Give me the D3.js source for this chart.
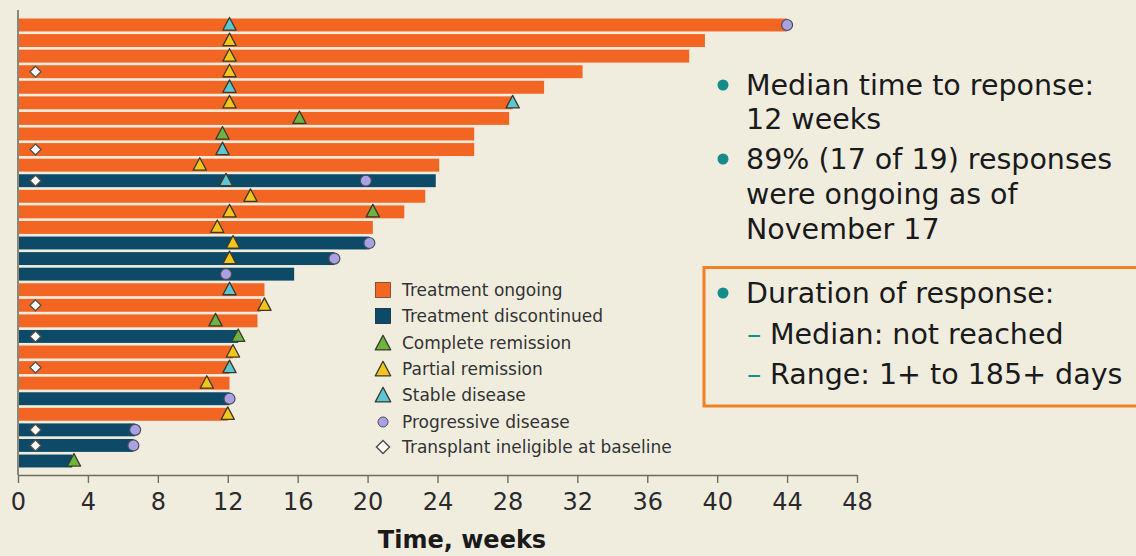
<!DOCTYPE html>
<html>
<head>
<meta charset="utf-8">
<script src="https://cdn.jsdelivr.net/npm/d3@7"></script>
<style>
html,body{margin:0;padding:0;background:#f0eddf;}
svg{display:block;font-family:"DejaVu Sans",Verdana,sans-serif;}
</style>
</head>
<body>
<svg id="chart" width="1136" height="556"></svg>
<script>
// ---- data ----
const patients = d3.range(1, 30);
const durations = [44.0, 39.3, 38.4, 32.3, 30.1, 28.3, 28.1, 26.1, 26.1, 24.1, 23.9, 23.3, 22.1, 20.3, 20.1, 18.1, 15.8, 14.1, 13.9, 13.7, 12.6, 12.3, 12.1, 12.1, 12.1, 12.0, 6.7, 6.6, 3.1];
const status = ["on","on","on","on","on","on","on","on","on","on","off","on","on","on","off","off","off","on","on","on","off","on","on","on","off","on","off","off","off"];
const completeRemission = [[7,16.1],[8,11.7],[13,20.3],[20,11.3],[21,12.6],[29,3.2]];
const partialRemission = [[2,12.1],[3,12.1],[4,12.1],[6,12.1],[10,10.4],[12,13.3],[13,12.1],[14,11.4],[15,12.3],[16,12.1],[19,14.1],[22,12.3],[24,10.8],[26,12.0]];
const stableDisease = [[1,12.1],[5,12.1],[6,28.3],[9,11.7],[11,11.9],[18,12.1],[23,12.1]];
const progressiveDisease = [[1,44.0],[11,19.9],[15,20.1],[16,18.1],[17,11.9],[25,12.1],[27,6.7],[28,6.6]];
const transplantIneligible = [[4,1.0],[9,1.0],[11,1.0],[19,1.0],[21,1.0],[23,1.0],[27,1.0],[28,1.0]];
const xTicks = [0,4,8,12,16,20,24,28,32,36,40,44,48];
const legendLabels = ["Treatment ongoing","Treatment discontinued","Complete remission","Partial remission","Stable disease","Progressive disease","Transplant ineligible at baseline"];
const xTitle = "Time, weeks";
const notes = [
  {bullet:true, lines:["Median time to reponse:","12 weeks"]},
  {bullet:true, lines:["89% (17 of 19) responses","were ongoing as of","November 17"]}
];
const boxTitle = "Duration of response:";
const boxItems = ["Median: not reached","Range: 1+ to 185+ days"];

// ---- styles ----
const C = {
  bg:"#f0eddf", on:"#f26522", off:"#0d4a68", green:"#6cb33f", yellow:"#f7c51a",
  cyan:"#5cc6d2", purple:"#a9a2e2", axis:"#6d6d62", text:"#2b2b2b", teal:"#168b8b", box:"#f58023"
};

const svg = d3.select("#chart");
const x = d3.scaleLinear().domain([0,48]).range([18,857]);
const y = d3.scaleBand().domain(patients).range([17.2,468.8]).paddingInner(0.17).paddingOuter(0.085);

// bars
svg.append("g").selectAll("rect").data(patients).join("rect")
  .attr("x", x(0)+1)
  .attr("y", d => y(d))
  .attr("width", (d,i) => x(durations[i]) - x(0) - 1)
  .attr("height", y.bandwidth())
  .attr("fill", (d,i) => status[i]==="on" ? C.on : C.off);

const cy = r => y(r) + y.bandwidth()/2;
const tri = s => `M0,${-s*0.62}L${s*0.55},${s*0.42}L${-s*0.55},${s*0.42}Z`;
const dia = s => `M0,${-s}L${s},0L0,${s}L${-s},0Z`;

function triangles(data, fill){
  svg.append("g").selectAll("path").data(data).join("path")
    .attr("d", tri(12))
    .attr("transform", d => `translate(${x(d[1])},${cy(d[0])})`)
    .attr("fill", fill).attr("stroke","#3a3a2c").attr("stroke-width",1.3).attr("stroke-linejoin","round");
}
triangles(completeRemission, C.green);
triangles(partialRemission, C.yellow);
triangles(stableDisease, C.cyan);

svg.append("g").selectAll("circle").data(progressiveDisease).join("circle")
  .attr("cx", d => x(d[1])).attr("cy", d => cy(d[0])).attr("r",5.5)
  .attr("fill", C.purple).attr("stroke","#4a4a5a").attr("stroke-width",1.2);

svg.append("g").selectAll("path").data(transplantIneligible).join("path")
  .attr("d", dia(5.5))
  .attr("transform", d => `translate(${x(d[1])},${cy(d[0])})`)
  .attr("fill","#ffffff").attr("stroke","#555048").attr("stroke-width",1.3);

// axes
const ax = svg.append("g").attr("transform","translate(0,475)")
  .call(d3.axisBottom(x).tickValues(xTicks).tickSize(8).tickSizeOuter(0).tickPadding(10));
ax.select(".domain").attr("stroke",C.axis).attr("stroke-width",1.6);
ax.selectAll(".tick line").attr("stroke",C.axis).attr("stroke-width",1.4);
ax.selectAll(".tick text").attr("fill",C.text).attr("font-size",24).attr("font-family","DejaVu Sans");
svg.append("line").attr("x1",x(0)).attr("x2",x(0)).attr("y1",10).attr("y2",475)
  .attr("stroke",C.axis).attr("stroke-width",1.6);

svg.append("text").attr("x",462).attr("y",548).attr("text-anchor","middle")
  .attr("font-size",24).attr("font-weight","bold").attr("fill","#1a1a1a").text(xTitle);

// legend
const lg = svg.append("g");
const legY = [290,316,343,369,395,422,447];
const lx = 383;
lg.append("rect").attr("x",lx-7.5).attr("y",legY[0]-7.5).attr("width",15).attr("height",15).attr("fill",C.on).attr("stroke","#7a3a20").attr("stroke-width",0.8);
lg.append("rect").attr("x",lx-7.5).attr("y",legY[1]-7.5).attr("width",15).attr("height",15).attr("fill",C.off).attr("stroke","#06283a").attr("stroke-width",0.8);
[[2,C.green],[3,C.yellow],[4,C.cyan]].forEach(([i,c]) => {
  lg.append("path").attr("d",tri(14)).attr("transform",`translate(${lx},${legY[i]+1})`)
    .attr("fill",c).attr("stroke","#3a3a2c").attr("stroke-width",1.3).attr("stroke-linejoin","round");
});
lg.append("circle").attr("cx",lx).attr("cy",legY[5]).attr("r",5).attr("fill",C.purple).attr("stroke","#4a4a5a").attr("stroke-width",1);
lg.append("path").attr("d",dia(6.5)).attr("transform",`translate(${lx},${legY[6]})`).attr("fill","#fff").attr("stroke","#555048").attr("stroke-width",1.5);
lg.selectAll("text").data(legendLabels).join("text")
  .attr("x",402).attr("y",(d,i) => legY[i]+6).attr("font-size",17).attr("fill","#333").text(d => d);

// notes
const fs = 28.5;
const baselines = [[95,129],[169,204,239]];
notes.forEach((n,k) => {
  svg.append("circle").attr("cx",723).attr("cy",baselines[k][0]-10).attr("r",5.5).attr("fill",C.teal);
  n.lines.forEach((t,j) => {
    svg.append("text").attr("x",746).attr("y",baselines[k][j]).attr("font-size",fs).attr("fill","#1a1a1a").text(t);
  });
});
svg.append("rect").attr("x",704).attr("y",267.5).attr("width",460).attr("height",138.5)
  .attr("fill","none").attr("stroke",C.box).attr("stroke-width",3);
svg.append("circle").attr("cx",723).attr("cy",293).attr("r",5.5).attr("fill",C.teal);
svg.append("text").attr("x",746).attr("y",303).attr("font-size",fs).attr("fill","#1a1a1a").text(boxTitle);
[344,384].forEach((b,i) => {
  svg.append("text").attr("x",747).attr("y",b).attr("font-size",fs).attr("fill",C.teal).text("–");
  svg.append("text").attr("x",770).attr("y",b).attr("font-size",fs).attr("fill","#1a1a1a").text(boxItems[i]);
});
</script>
</body>
</html>
